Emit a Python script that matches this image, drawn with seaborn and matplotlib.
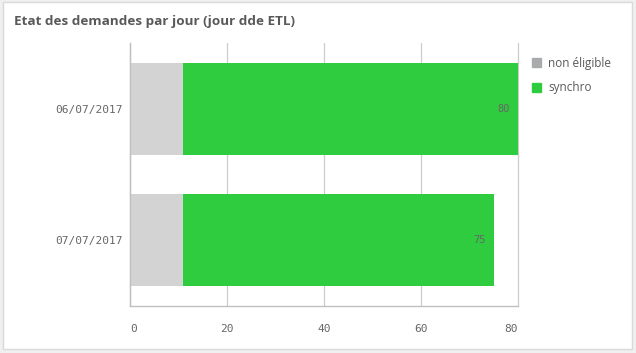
import matplotlib
matplotlib.use("Agg")
import matplotlib.pyplot as plt
import matplotlib.patches as mpatches
import pandas as pd
import seaborn as sns

# ── Data ─────────────────────────────────────────────────────────────────────
jours        = ["06/07/2017", "07/07/2017"]
non_eligible = [11, 11]
synchro      = [69, 64]
series       = ["non éligible", "synchro"]

COLORS = {"non éligible": "#d3d3d3", "synchro": "#2fcc40"}
LEGEND_COLORS = {"non éligible": "#a8aaab", "synchro": "#2fcc40"}
TXT = "#595959"

df = pd.DataFrame({"jour": jours, "non éligible": non_eligible, "synchro": synchro})
df["total"] = df["non éligible"] + df["synchro"]

sns.set_theme(style="white")
plt.rcParams["font.family"] = ["Open Sans", "DejaVu Sans"]

fig = plt.figure(figsize=(6.36, 3.53), dpi=100)
fig.patch.set_facecolor("#f0f0f0")
card = mpatches.FancyBboxPatch((3 / 636, 4 / 353), 629 / 636, 347 / 353,
                               boxstyle="square,pad=0", transform=fig.transFigure,
                               facecolor="white", edgecolor="#d9d9d9", lw=1, zorder=-1)
fig.patches.append(card)

ax = fig.add_axes([130 / 636, 1 - 306 / 353, 388 / 636, 263 / 353])
ax.set_facecolor("none")

# stacked: total (green) underneath, non éligible (grey) drawn on top
sns.barplot(data=df, y="jour", x="total", orient="h", color=COLORS["synchro"],
            width=0.7, saturation=1, linewidth=0, ax=ax, zorder=2)
sns.barplot(data=df, y="jour", x="non éligible", orient="h", color=COLORS["non éligible"],
            width=0.7, saturation=1, linewidth=0, ax=ax, zorder=3)

for i, tot in enumerate(df["total"]):
    ax.text(tot - 1.6, i, f"{tot}", ha="right", va="center", fontsize=7.5,
            family="DejaVu Sans Mono", color="#666666", zorder=4)

ax.set_xlim(0, 80)
ax.set_ylim(1.5, -0.5)
ax.set_xticks([0, 20, 40, 60, 80])
ax.xaxis.grid(True, color="#cccccc", lw=0.9, zorder=0)
ax.set_axisbelow(True)
for gl in ax.get_xgridlines():
    gl.set_clip_on(False)
for s in ["top", "right"]:
    ax.spines[s].set_visible(False)
for s in ["left", "bottom"]:
    ax.spines[s].set_color("#c0c0c0")
    ax.spines[s].set_linewidth(1)
    ax.spines[s].set_zorder(5)
ax.set_xlabel("")
ax.set_ylabel("")
ax.tick_params(axis="both", length=0, colors="#666666", labelsize=8, pad=5)
ax.tick_params(axis="x", pad=13)
for lab in ax.get_xticklabels() + ax.get_yticklabels():
    lab.set_family("DejaVu Sans Mono")
xlabs = ax.get_xticklabels()
xlabs[0].set_ha("left")
xlabs[-1].set_ha("right")

fig.text(14 / 636, 1 - 21 / 353, "Etat des demandes par jour (jour dde ETL)",
         fontsize=9.7, fontweight="bold", color=TXT, va="center")

handles = [mpatches.Patch(color=LEGEND_COLORS[s], label=s) for s in series]
fig.legend(handles=handles, loc="upper left", bbox_to_anchor=(521 / 636, 1 - 46 / 353),
           frameon=False, fontsize=8.5, labelcolor=TXT, handlelength=0.8,
           handleheight=0.8, handletextpad=0.6, labelspacing=1.0)

fig.savefig("out.png", dpi=100)
plt.close(fig)
